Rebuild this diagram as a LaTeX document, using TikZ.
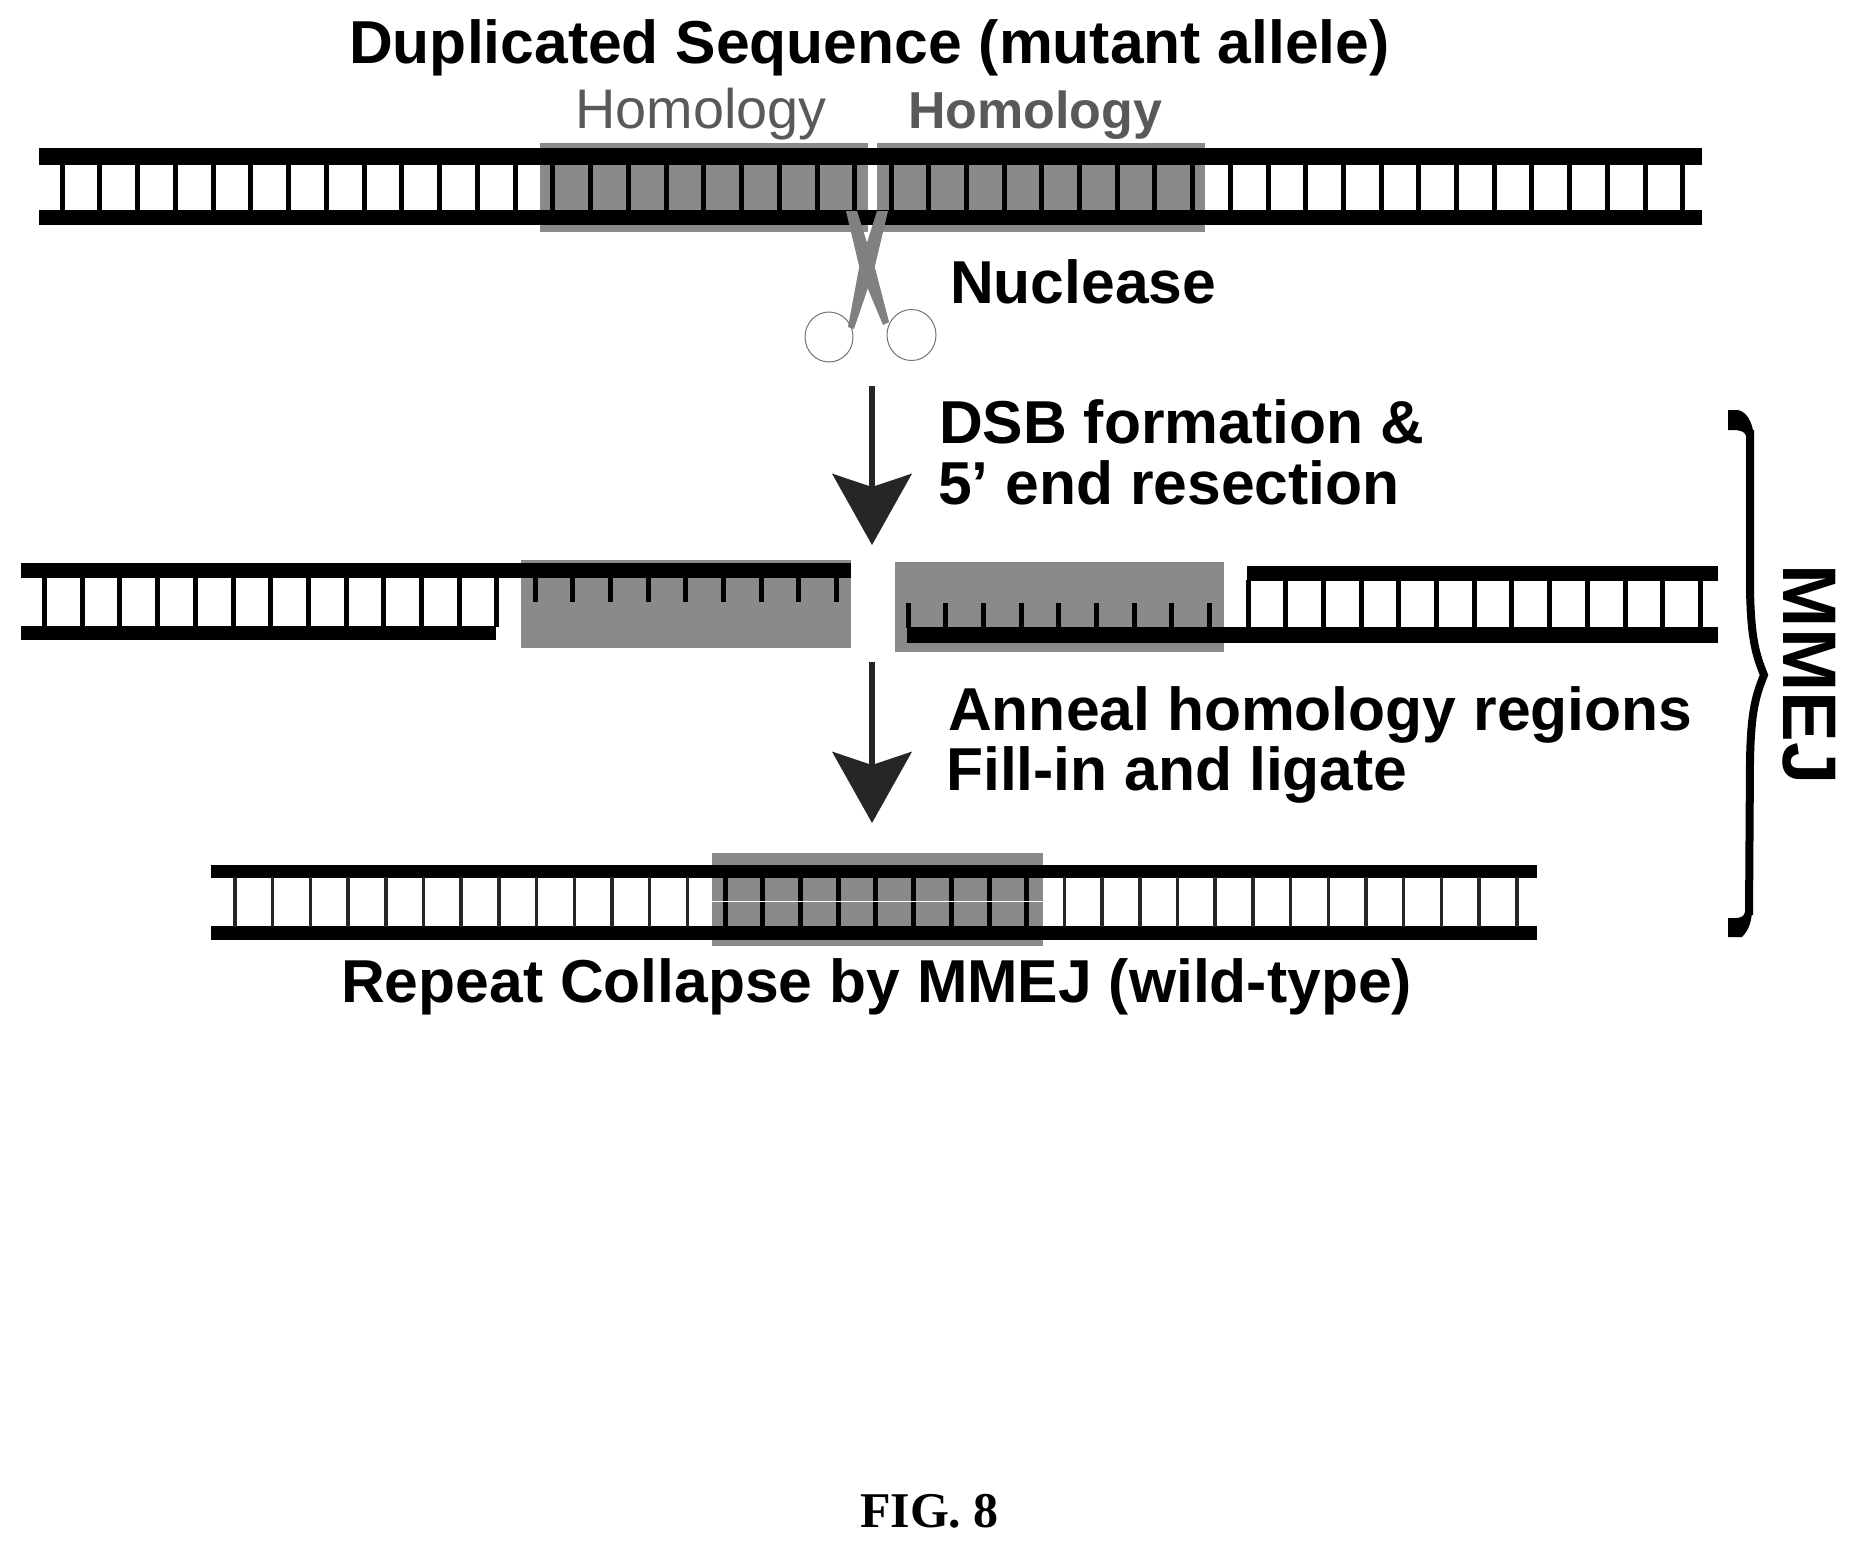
\documentclass[tikz,border=0pt]{standalone}
\usepackage{fontspec}
\setmainfont{Liberation Sans}
\newfontfamily\figfont{Liberation Serif}
\usetikzlibrary{arrows.meta}
\definecolor{homgray}{gray}{0.54}

\begin{document}
\begin{tikzpicture}
  [
  x = 1pt, y = -1pt,
  % text
  head/.style = {anchor = base west, inner sep = 0pt,
    font = \fontsize{60.6}{72}\selectfont\bfseries},
  homol/.style = {anchor = base west, inner sep = 0pt, text = black!65,
    font = \fontsize{55.8}{66}\selectfont},
  % strands
  bar/.style = {fill = black},
  rung/.style = {draw = black, line width = 5pt},
  thinrung/.style = {draw = black!85, line width = 3.5pt},
  shade/.style = {fill = homgray},
  blade/.style = {fill = black!50},
  finger/.style = {draw = black!55, line width = 1pt},
  % line
  line/.style = {draw = black!85, line width = 6.5pt,
    -{Stealth[length = 71pt, width = 79pt, inset = 13pt]}},
  brace/.style = {draw, line width = 8pt},
  ]

  \useasboundingbox (0,0) rectangle (1857,1548);

  % homology blocks
  \path [shade] (540,143) rectangle (868,232);
  \path [shade] (877,143) rectangle (1205,232);
  \path [shade] (521,560) rectangle (851,648);
  \path [shade] (895,562) rectangle (1224,652);
  \path [shade] (712,853) rectangle (1043,946);

  % duplicated strand
  \path [bar] (39,148) rectangle (1702,164.5);
  \path [bar] (39,210) rectangle (1702,225);
  \foreach \k in {0,...,21}
    \path [rung] (62+37.75*\k,163) -- (62+37.75*\k,211);
  \foreach \k in {0,...,21}
    \path [rung] (891+37.7*\k,163) -- (891+37.7*\k,211);

  % resected strand, left
  \path [bar] (21,563) rectangle (851,578);
  \path [bar] (21,626) rectangle (496,640);
  \foreach \k in {0,...,12}
    \path [rung] (44.5+37.7*\k,577) -- (44.5+37.7*\k,627);
  \foreach \k in {0,...,8}
    \path [rung] (535+37.7*\k,577) -- (535+37.7*\k,602);

  % resected strand, right
  \path [bar] (1247,566) rectangle (1718,581);
  \path [bar] (907,627) rectangle (1718,643);
  \foreach \k in {0,...,12}
    \path [rung] (1248+37.7*\k,580) -- (1248+37.7*\k,628);
  \foreach \k in {0,...,8}
    \path [rung] (908+37.7*\k,603) -- (908+37.7*\k,628);

  % repaired strand
  \path [bar] (211,865) rectangle (1537,878);
  \path [bar] (211,926) rectangle (1537,940);
  \foreach \k in {0,...,34}
    \path [thinrung] (235+37.7*\k,877) -- (235+37.7*\k,927);
  \foreach \k in {13,...,21}
    \path [rung] (235+37.7*\k,877) -- (235+37.7*\k,927);
  \path [draw = white, line width = 1pt] (712,901) -- (1043,901);

  % scissors
  \path [blade] (846,211) -- (857,211) -- (875,268) -- (889,322)
    -- (883,325) -- (860,270) -- cycle;
  \path [blade] (888,211) -- (877,211) -- (859,268) -- (848,327)
    -- (854,329) -- (874,270) -- cycle;
  \path [finger] (829,337) ellipse (24 and 25);
  \path [finger] (911.5,335) ellipse (24.5 and 25.5);

  % labels
  \node [head] (title) at (349,63) {Duplicated Sequence (mutant allele)};
  \node [homol] (homleft) at (575,128) {Homology};
  \node [homol, font = \fontsize{52}{62}\selectfont\bfseries] (homright)
    at (908,128) {Homology};
  \node [head] (nuclease) at (950,303) {Nuclease};
  \node [head] (dsb) at (939,443) {DSB formation \&};
  \node [head] (resect) at (938,504) {5’ end resection};
  \node [head] (anneal) at (948,730) {Anneal homology regions};
  \node [head] (fill) at (946,790) {Fill-in and ligate};
  \node [head] (repeat) at (341,1002) {Repeat Collapse by MMEJ (wild-type)};
  \node [head, font = \fontsize{76}{90}\selectfont\bfseries, rotate = -90,
    anchor = base] (mmej) at (1783,674.5) {MMEJ};
  \node [anchor = base, inner sep = 0pt, font = \fontsize{50}{60}\selectfont\bfseries\figfont]
    (fig) at (929.5,1527) {FIG. 8};

  % arrows
  \coordinate (dsbtop) at (872,386);
  \coordinate (dsbtip) at (872,545);
  \coordinate (annealtop) at (872,662);
  \coordinate (annealtip) at (872,823);
  \path [line] (dsbtop) -- (dsbtip);
  \path [line] (annealtop) -- (annealtip);

  % brace
  \fill (1728,410) -- (1738,410) .. controls (1746,412) and (1752,420) .. (1754,436)
    -- (1746,436) .. controls (1745,432) and (1742,431) .. (1736,430) -- (1728,430) -- cycle;
  \fill (1728,937) -- (1742,937) .. controls (1747,932) and (1751,925) .. (1752,912)
    -- (1745,912) .. controls (1744,916) and (1741,918) .. (1736,918) -- (1728,918) -- cycle;
  \path [brace] (1750,430) -- (1750,590) .. controls (1751,640) and (1756,655) .. (1764,675)
    .. controls (1756,695) and (1751,710) .. (1750,760) -- (1749,915);

\end{tikzpicture}
\end{document}
